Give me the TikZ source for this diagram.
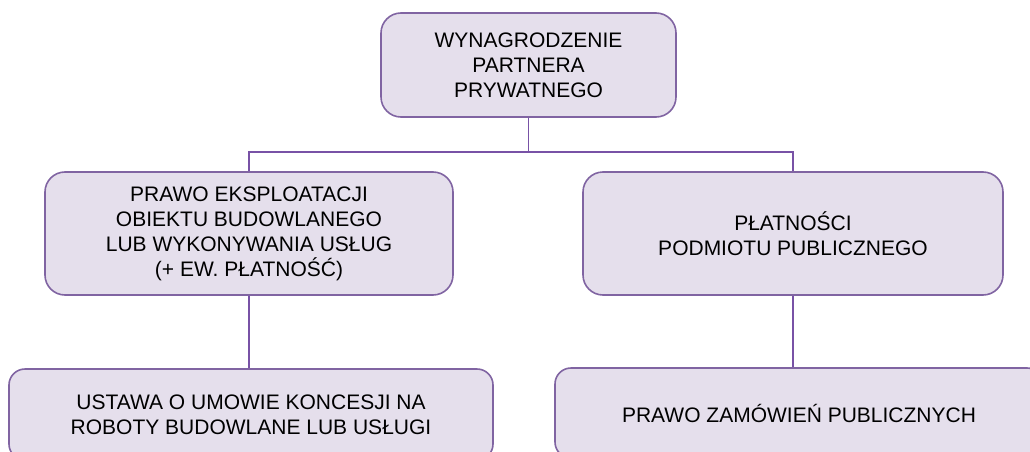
\documentclass[tikz,border=0pt]{standalone}
\usepackage{fontspec}
\setmainfont{Liberation Sans}
\definecolor{boxfill}{RGB}{229,223,236}
\definecolor{boxline}{RGB}{128,100,162}
\definecolor{connline}{RGB}{120,82,166}
\tikzset{
  orgbox/.style={draw=boxline, fill=boxfill, line width=1.6pt, rounded corners=20pt,
    align=center, inner sep=0pt, text=black,
    font=\fontsize{21}{25}\selectfont},
  conn/.style={draw=connline, line width=1.8pt}
}
\begin{document}
\begin{tikzpicture}[x=1pt,y=-1pt]
  \useasboundingbox (0,0) rectangle (1030,452);
  \clip (0,0) rectangle (1030,452);

  % top level
  \node[orgbox, minimum width=295pt, minimum height=104pt] (top) at (528.5,65)
    {WYNAGRODZENIE\\PARTNERA\\PRYWATNEGO};

  % second level
  \node[orgbox, minimum width=408pt, minimum height=123pt] (lmid) at (249,233.5)
    {PRAWO EKSPLOATACJI\\OBIEKTU BUDOWLANEGO\\LUB WYKONYWANIA USŁUG\\(+ EW. PŁATNOŚĆ)};
  \node[orgbox, minimum width=420pt, minimum height=123pt] (rmid) at (793,233.5)
    {PŁATNOŚCI\\PODMIOTU PUBLICZNEGO};

  % third level
  \node[orgbox, rounded corners=16pt, minimum width=484pt, minimum height=91pt] (lbot) at (251,414.5)
    {USTAWA O UMOWIE KONCESJI NA\\ROBOTY BUDOWLANE LUB USŁUGI};
  \node[orgbox, rounded corners=16pt, minimum width=488pt, minimum height=90pt] (rbot) at (799,413)
    {PRAWO ZAMÓWIEŃ PUBLICZNYCH};

  % connectors
  \coordinate (bus) at (528.5,152);
  \draw[conn] (top.south) -- (bus);
  \draw[conn] (bus) -| (lmid.north);
  \draw[conn] (bus) -| (rmid.north);
  \draw[conn] (lmid.south) -- (lmid.south |- lbot.north);
  \draw[conn] (rmid.south) -- (rmid.south |- rbot.north);
\end{tikzpicture}
\end{document}
